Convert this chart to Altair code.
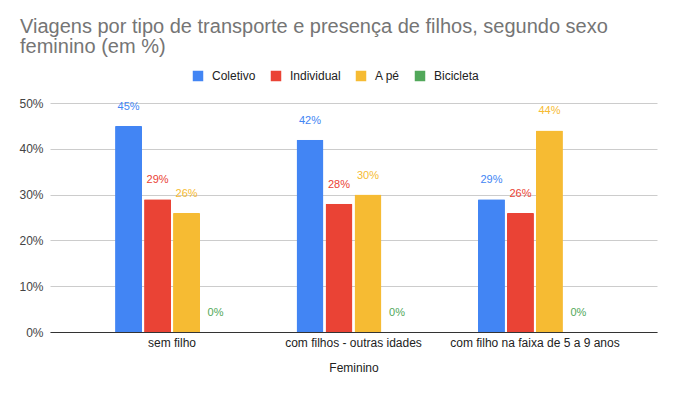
import altair as alt
import pandas as pd

categories = ["sem filho", "com filhos - outras idades", "com filho na faixa de 5 a 9 anos"]
series = ["Coletivo", "Individual", "A pé", "Bicicleta"]
coletivo = [0.45, 0.42, 0.29]
individual = [0.29, 0.28, 0.26]
a_pe = [0.26, 0.30, 0.44]
bicicleta = [0.0, 0.0, 0.0]
colors = ["#4285F4", "#EA4335", "#F6BB33", "#52A85A"]
y_ticks = [0, 0.1, 0.2, 0.3, 0.4, 0.5]

rows = []
for s, vals in zip(series, [coletivo, individual, a_pe, bicicleta]):
    for c, v in zip(categories, vals):
        rows.append({"grupo": c, "tipo": s, "valor": v})
df = pd.DataFrame(rows)

FONT = "Arial, Liberation Sans, sans-serif"

x = alt.X("grupo:N", sort=categories,
          scale=alt.Scale(domain=categories, paddingInner=0.361, paddingOuter=0.353),
          axis=alt.Axis(title="Feminino", labelAngle=0, ticks=False, domainColor="#333333",
                        labelPadding=5, titlePadding=14, labelFontSize=12, titleFontSize=12,
                        titleFontWeight="normal", labelColor="#222222", titleColor="#222222",
                        grid=False))
xoff = alt.XOffset("tipo:N", sort=series,
                   scale=alt.Scale(domain=series, paddingInner=0.07, paddingOuter=0.035))
y = alt.Y("valor:Q", scale=alt.Scale(domain=[0, 0.5], nice=False),
          axis=alt.Axis(title=None, format=".0%", values=y_ticks, domain=False, ticks=False,
                        labelPadding=7, labelFontSize=12, labelColor="#444444",
                        gridColor="#cccccc"))
color = alt.Color("tipo:N", sort=series,
                  scale=alt.Scale(domain=series, range=colors),
                  legend=alt.Legend(title=None, orient="none", legendX=142, legendY=-33,
                                    direction="horizontal", symbolType="square",
                                    symbolSize=110, symbolStrokeWidth=0, labelFontSize=12,
                                    labelColor="#222222", labelOffset=8, columnPadding=14,
                                    symbolOpacity=1))

base = alt.Chart(df)
bars = base.mark_bar(cornerRadiusTopLeft=1, cornerRadiusTopRight=1).encode(
    x=x, xOffset=xoff, y=y, color=color)
labels = base.mark_text(baseline="middle", dy=-19, fontSize=11, font=FONT).encode(
    x=x, xOffset=xoff, y=y, color=alt.Color("tipo:N", sort=series, scale=alt.Scale(domain=series, range=colors), legend=None),
    text=alt.Text("valor:Q", format=".0%"))

chart = alt.layer(bars, labels).properties(
    width=607, height=229,
    title=alt.TitleParams(
        text=["Viagens por tipo de transporte e presença de filhos, segundo sexo", "feminino (em %)"],
        anchor="start", frame="group", dx=-30, offset=13, fontSize=20, fontWeight="normal",
        color="#757575", font=FONT, lineHeight=20),
    autosize=alt.AutoSizeParams(type="none"),
    padding={"left": 42, "top": 95, "right": 8, "bottom": 56},
).configure(font=FONT).configure_view(stroke=None)

chart.save("out.html", embed_options={"renderer": "svg", "actions": False})
